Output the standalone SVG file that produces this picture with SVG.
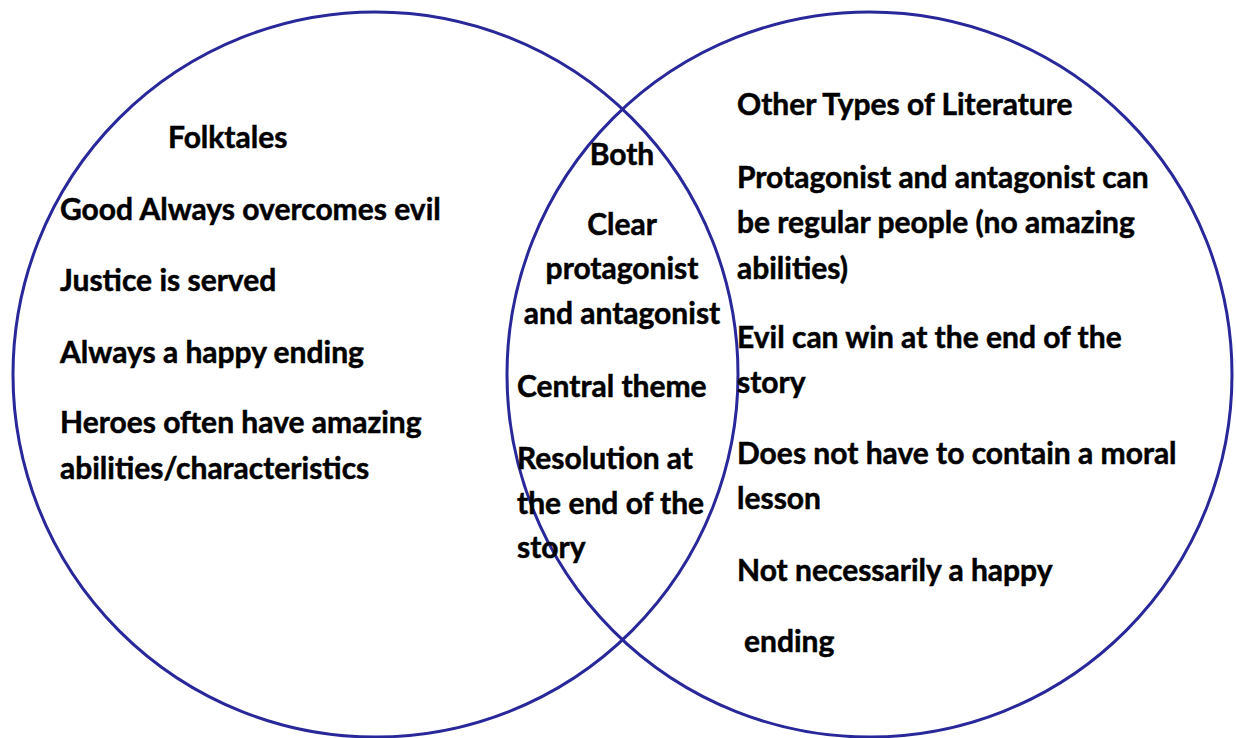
<svg xmlns="http://www.w3.org/2000/svg" width="1236" height="738" viewBox="0 0 1236 738">
  <style>
    .ring { fill: none; stroke: #28289a; stroke-width: 3; }
    .t { font-family: Lato, "Open Sans", "Liberation Sans", sans-serif; font-weight: bold; font-size: 30px; fill: #000; stroke: #000; stroke-width: 0.5px; }
    .c { text-anchor: middle; }
  </style>
  <rect width="1236" height="738" fill="#fff"/>
  <g id="folktales">
    <circle class="ring" cx="375.5" cy="374.5" r="362.5"/>
    <text class="t" x="168" y="148">Folktales</text>
    <text class="t" x="60" y="220">Good Always overcomes evil</text>
    <text class="t" x="60" y="291">Justice is served</text>
    <text class="t" x="60" y="363">Always a happy ending</text>
    <text class="t" x="60" y="433">Heroes often have amazing</text>
    <text class="t" x="60" y="479">abilities/characteristics</text>
  </g>
  <g id="other-literature">
    <circle class="ring" cx="869.5" cy="374.5" r="362.5"/>
    <text class="t" x="737" y="115">Other Types of Literature</text>
    <text class="t" x="737" y="188">Protagonist and antagonist can</text>
    <text class="t" x="737" y="233">be regular people (no amazing</text>
    <text class="t" x="737" y="279">abilities)</text>
    <text class="t" x="737" y="348">Evil can win at the end of the</text>
    <text class="t" x="737" y="393">story</text>
    <text class="t" x="737" y="464">Does not have to contain a moral</text>
    <text class="t" x="737" y="509">lesson</text>
    <text class="t" x="737" y="581">Not necessarily a happy</text>
    <text class="t" x="744" y="652">ending</text>
  </g>
  <g id="both">
    <text class="t c" x="622" y="165">Both</text>
    <text class="t c" x="622" y="235">Clear</text>
    <text class="t c" x="622" y="279">protagonist</text>
    <text class="t c" x="622" y="324">and antagonist</text>
    <text class="t" x="517" y="397">Central theme</text>
    <text class="t" x="517" y="469">Resolution at</text>
    <text class="t" x="517" y="514">the end of the</text>
    <text class="t" x="517" y="558">story</text>
  </g>
  <g id="connectors"/>
</svg>
